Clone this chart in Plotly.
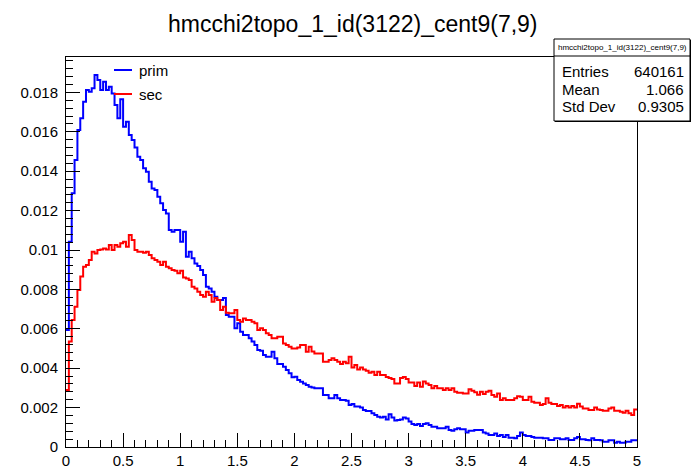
import numpy as np
import plotly.graph_objects as go

# Histogram binning: 200 bins over [0, 5]
n_bins = 200
x_min, x_max = 0.0, 5.0

# Normalised bin contents (units of 1e-3)
prim = [
    5.94, 10.42, 12.88, 14.57, 16.09, 16.69, 17.53, 18.12, 18.04, 18.21,
    18.88, 18.63, 18.12, 18.54, 18.12, 18.29, 17.95, 17.36, 16.69, 17.65,
    16.26, 16.51, 15.84, 15.58, 15.21, 14.74, 14.57, 14.15, 13.98, 13.47,
    13.13, 13.05, 12.71, 12.37, 12.03, 11.86, 11.02, 10.93, 11.02, 11.02,
    10.42, 10.93, 9.66, 9.91, 9.58, 9.32, 9.19, 8.98, 8.73, 8.14,
    8.05, 7.88, 7.63, 7.46, 7.46, 7.56, 6.70, 6.61, 6.61, 6.03,
    6.28, 5.85, 5.69, 5.69, 5.52, 5.35, 5.18, 4.92, 4.89, 4.67,
    4.58, 4.58, 4.84, 4.50, 4.21, 4.21, 4.08, 3.91, 3.74, 3.54,
    3.57, 3.40, 3.31, 3.23, 3.15, 3.06, 3.02, 2.98, 2.98, 2.98,
    2.64, 2.64, 2.47, 2.47, 2.64, 2.47, 2.39, 2.39, 2.35, 2.13,
    2.18, 2.05, 2.05, 2.00, 1.88, 1.83, 1.83, 1.71, 1.62, 1.54,
    1.50, 1.54, 1.40, 1.66, 1.50, 1.34, 1.37, 1.40, 1.50, 1.45,
    1.29, 1.17, 1.12, 1.17, 1.07, 1.17, 1.20, 1.12, 1.03, 1.03,
    0.95, 0.95, 0.95, 1.03, 0.86, 0.83, 0.90, 0.95, 0.90, 0.90,
    0.73, 0.83, 0.82, 0.86, 0.86, 0.86, 0.73, 0.68, 0.61, 0.61,
    0.68, 0.56, 0.61, 0.51, 0.61, 0.47, 0.47, 0.44, 0.56, 0.73,
    0.61, 0.56, 0.56, 0.51, 0.47, 0.47, 0.47, 0.44, 0.44, 0.36,
    0.36, 0.44, 0.44, 0.39, 0.39, 0.44, 0.36, 0.36, 0.44, 0.51,
    0.39, 0.39, 0.36, 0.34, 0.44, 0.36, 0.36, 0.34, 0.27, 0.27,
    0.34, 0.34, 0.22, 0.27, 0.22, 0.22, 0.27, 0.27, 0.34, 0.34,
]

sec = [
    2.89, 5.35, 6.45, 7.12, 7.97, 8.65, 9.15, 9.24, 9.49, 9.91,
    9.83, 10.00, 10.03, 10.08, 10.03, 10.25, 10.00, 10.25, 10.17, 10.34,
    10.42, 10.17, 10.76, 10.51, 10.00, 9.91, 9.91, 9.86, 9.91, 9.75,
    9.58, 9.49, 9.41, 9.24, 9.41, 9.15, 9.07, 8.98, 8.95, 8.82,
    8.95, 8.60, 8.56, 8.48, 8.14, 8.05, 7.88, 7.72, 7.63, 7.88,
    7.72, 7.38, 7.56, 7.46, 6.95, 7.12, 6.82, 6.79, 6.79, 6.95,
    6.45, 6.36, 6.53, 6.45, 6.45, 6.36, 6.28, 5.94, 6.03, 5.94,
    5.77, 5.69, 5.52, 5.52, 5.60, 5.60, 5.26, 5.18, 5.09, 5.00,
    5.00, 5.05, 5.18, 5.18, 4.84, 5.09, 4.85, 4.75, 4.75, 4.75,
    4.33, 4.33, 4.42, 4.50, 4.42, 4.33, 4.21, 4.33, 4.25, 4.58,
    4.04, 4.16, 3.94, 4.04, 3.94, 3.87, 3.77, 3.82, 3.65, 3.82,
    3.65, 3.65, 3.55, 3.50, 3.45, 3.23, 3.23, 3.50, 3.55, 3.45,
    3.28, 3.28, 3.10, 3.28, 3.06, 3.33, 3.23, 3.15, 2.98, 3.10,
    2.98, 2.98, 2.89, 2.98, 2.89, 2.98, 2.81, 2.76, 2.76, 2.72,
    2.72, 2.93, 2.85, 2.78, 2.65, 2.81, 2.69, 2.81, 2.86, 2.64,
    2.55, 2.72, 2.39, 2.47, 2.39, 2.39, 2.39, 2.47, 2.58, 2.55,
    2.39, 2.39, 2.55, 2.30, 2.25, 2.25, 2.13, 2.18, 2.47, 2.25,
    2.18, 2.18, 2.08, 2.13, 2.01, 2.08, 2.01, 2.08, 2.01, 2.20,
    2.05, 1.96, 1.96, 1.88, 1.88, 2.01, 1.91, 1.88, 1.84, 1.84,
    1.96, 2.01, 1.84, 1.84, 1.79, 1.74, 1.84, 1.71, 1.62, 1.91,
]

series_names = ["prim", "sec"]
series_colors = ["#0000ff", "#ff0000"]

hist_title = "hmcchi2topo_1_id(3122)_cent9(7,9)"
stat_labels = ["Entries", "Mean", "Std Dev"]
stat_values = ["640161", "1.066", "0.9305"]

edges = np.linspace(x_min, x_max, n_bins + 1)

W, H = 692, 468
L, R, T, B = 66, 637, 57, 447  # frame edges in pixels


def fx(p):
    return (p - L) / (R - L)


def fy(p):
    return (B - p) / (B - T)


FONT = "Liberation Sans, Arial, Helvetica, sans-serif"

fig = go.Figure()
for name, vals, col in zip(series_names, [prim, sec], series_colors):
    y = np.array(vals) * 1e-3
    fig.add_trace(go.Scatter(
        x=edges,
        y=np.append(y, y[-1]),
        mode="lines",
        line=dict(color=col, width=2, shape="hv"),
        name=name,
        showlegend=False,
        hoverinfo="skip",
    ))

axis_common = dict(
    automargin=False,
    showgrid=False,
    zeroline=False,
    showline=True,
    linecolor="#000000",
    linewidth=1,
    mirror=True,
    ticks="inside",
    tickcolor="#000000",
    tickwidth=1,
    ticklen=14,
    tickfont=dict(family=FONT, size=15, color="#000000"),
)

fig.update_xaxes(
    range=[x_min, x_max],
    dtick=0.5,
    tick0=0,
    minor=dict(dtick=0.1, ticks="inside", ticklen=7, tickcolor="#000000", tickwidth=1),
    **axis_common,
)
fig.update_yaxes(
    range=[0, 0.0198],
    dtick=0.002,
    tick0=0,
    minor=dict(dtick=0.0004, ticks="inside", ticklen=7, tickcolor="#000000", tickwidth=1),
    ticklabelstandoff=4,
    **axis_common,
)

shapes = []
annotations = []

# Legend entries (line sample + label)
leg_rows = [70, 94]
for name, col, yy in zip(series_names, series_colors, leg_rows):
    shapes.append(dict(type="line", xref="paper", yref="paper",
                       x0=fx(114), x1=fx(132), y0=fy(yy), y1=fy(yy),
                       line=dict(color=col, width=2)))
    annotations.append(dict(xref="paper", yref="paper", x=fx(137), y=fy(yy),
                            text=name, showarrow=False, xanchor="left", yanchor="middle",
                            font=dict(family=FONT, size=15, color="#000000")))

# Statistics box
bx0, bx1, by0, by1 = 554, 690, 39, 121
shapes.append(dict(type="rect", xref="paper", yref="paper",
                   x0=fx(bx0 + 1), x1=fx(bx1 + 1), y0=fy(by0 + 1), y1=fy(by1 + 1),
                   fillcolor="#000000", line=dict(width=0), layer="above"))
shapes.append(dict(type="rect", xref="paper", yref="paper",
                   x0=fx(bx0), x1=fx(bx1), y0=fy(by0), y1=fy(by1),
                   fillcolor="#ffffff", line=dict(color="#000000", width=1), layer="above"))
shapes.append(dict(type="line", xref="paper", yref="paper",
                   x0=fx(bx0), x1=fx(bx1), y0=fy(56), y1=fy(56),
                   line=dict(color="#000000", width=1), layer="above"))
annotations.append(dict(xref="paper", yref="paper", x=fx((bx0 + bx1) / 2), y=fy(47.5),
                        text=hist_title, showarrow=False, xanchor="center", yanchor="middle",
                        font=dict(family=FONT, size=8, color="#000000")))
for lab, val, yy in zip(stat_labels, stat_values, [72, 89, 106]):
    annotations.append(dict(xref="paper", yref="paper", x=fx(560), y=fy(yy),
                            text=lab, showarrow=False, xanchor="left", yanchor="middle",
                            font=dict(family=FONT, size=15, color="#000000")))
    annotations.append(dict(xref="paper", yref="paper", x=fx(686), y=fy(yy),
                            text=val, showarrow=False, xanchor="right", yanchor="middle",
                            font=dict(family=FONT, size=15, color="#000000")))

# Histogram title
annotations.append(dict(xref="paper", yref="paper", x=fx(353), y=fy(24),
                        text=hist_title, showarrow=False, xanchor="center", yanchor="middle",
                        font=dict(family=FONT, size=23, color="#000000")))

fig.update_layout(
    width=W,
    height=H,
    margin=dict(l=L, r=W - R, t=T, b=H - B, pad=0),
    paper_bgcolor="#ffffff",
    plot_bgcolor="#ffffff",
    shapes=shapes,
    annotations=annotations,
    showlegend=False,
)

fig.write_html("out.html", config={"displayModeBar": False})
